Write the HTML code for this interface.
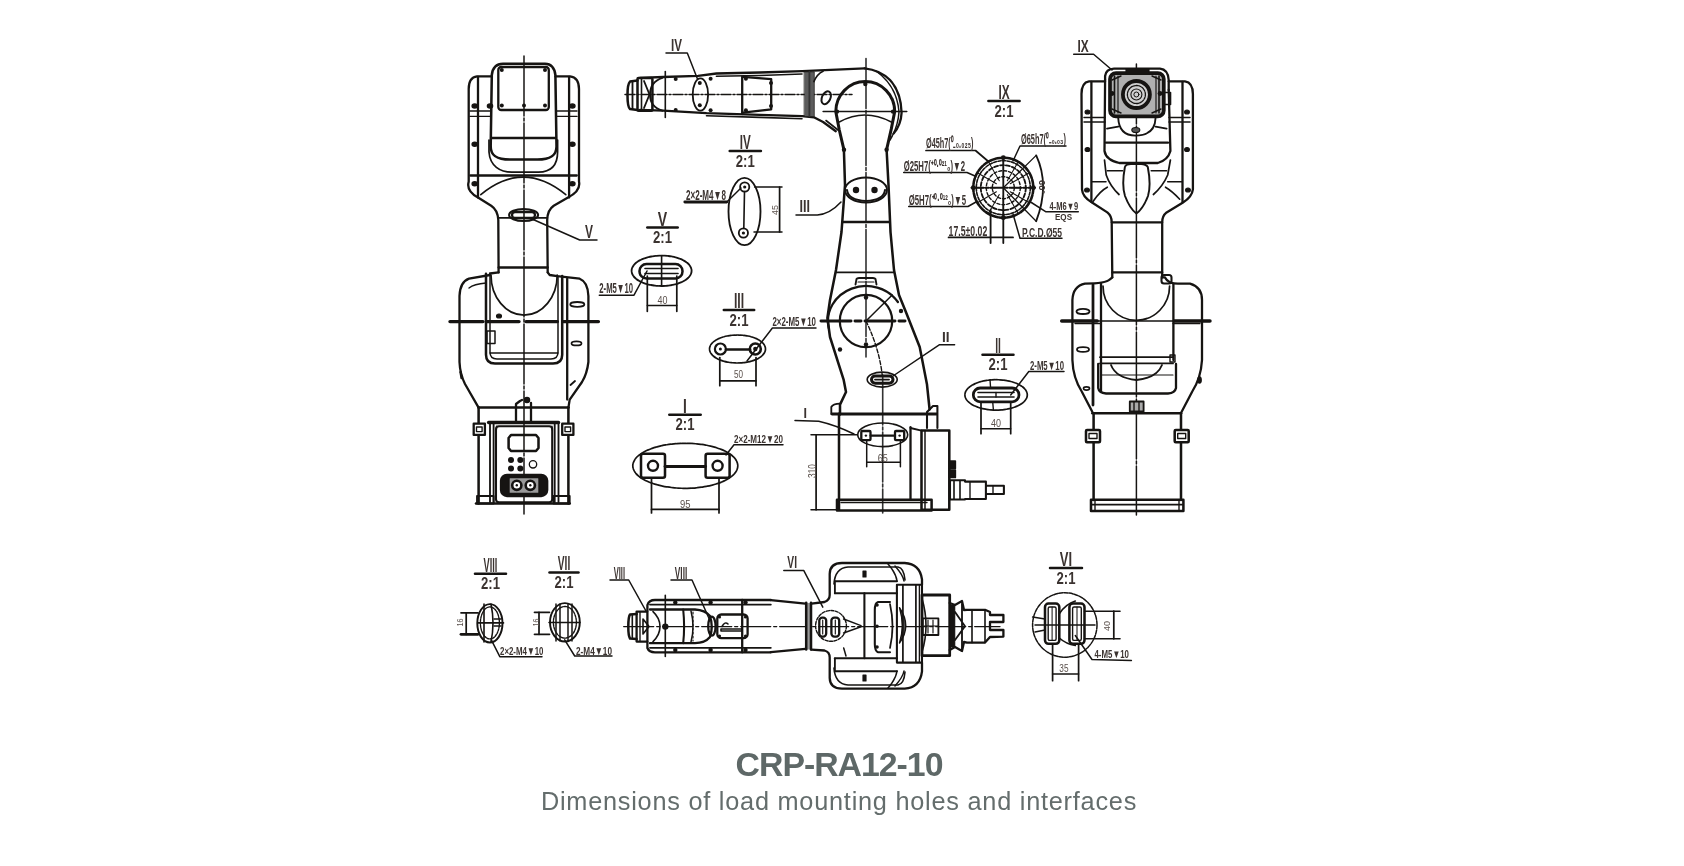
<!DOCTYPE html><html><head><meta charset="utf-8"><style>
html,body{margin:0;padding:0;background:#fff;width:1684px;height:866px;overflow:hidden}
svg{position:absolute;left:0;top:0;will-change:transform}
.cap{will-change:transform;position:absolute;left:0;width:1684px;text-align:center;font-family:"Liberation Sans",sans-serif;color:#5e6867}
</style></head><body>
<svg width="1684" height="866" viewBox="0 0 1684 866" font-family="Liberation Sans, sans-serif" stroke-linecap="round" stroke-linejoin="round">

<line x1="524" y1="56" x2="524" y2="514" stroke="#161412" stroke-width="1.49" stroke-dasharray="60 2 3 2"/>
<path d="M490.7,146.5 L491.8,75 Q493,64 503,63.8 L545,63.8 Q554,64 555.4,75 L556.5,146.5 C556.5,156 550,159.6 537.3,159.6 L509.9,159.6 C497,159.6 490.7,156 490.7,146.5 Z" stroke="#161412" stroke-width="2.53" fill="none" />
<rect x="498.3" y="67" width="50.5" height="43" rx="3" stroke="#161412" stroke-width="2.30" fill="none" />
<circle cx="501.8" cy="70" r="2.0" fill="#161412"/>
<circle cx="545" cy="70" r="2.0" fill="#161412"/>
<circle cx="501.8" cy="105.5" r="2.0" fill="#161412"/>
<circle cx="524" cy="105.5" r="2.0" fill="#161412"/>
<circle cx="545" cy="105.5" r="2.0" fill="#161412"/>
<line x1="491.8" y1="138" x2="555.4" y2="138" stroke="#161412" stroke-width="2.30" />
<path d="M489,140 L489,152 C490,166 500,172.2 512,172.2 L538.4,172.2 C551,172 557.6,165 557.6,152 L557.6,140" stroke="#161412" stroke-width="1.72" fill="none" />
<path d="M491.5,76.4 L477,76.4 Q468.7,77.5 468.7,89 L468.7,181.6 Q466,191 478,197.5 L491.2,205.7 Q497.8,210 498.3,220 L498.6,272.4" stroke="#161412" stroke-width="2.30" fill="none" />
<path d="M555.4,76.4 L570,76.4 Q579,77.5 579,89 L579,181.6 Q581,191 568,197.5 L553.7,205.7 Q547.4,210 547.2,220 L547.7,272.4" stroke="#161412" stroke-width="2.30" fill="none" />
<line x1="478" y1="77" x2="478" y2="197.5" stroke="#161412" stroke-width="2.30" />
<line x1="569.1" y1="77" x2="569.1" y2="197.5" stroke="#161412" stroke-width="2.30" />
<line x1="470" y1="111" x2="491" y2="111" stroke="#161412" stroke-width="1.38" />
<line x1="556" y1="111" x2="577" y2="111" stroke="#161412" stroke-width="1.38" />
<line x1="470" y1="116.4" x2="491" y2="116.4" stroke="#161412" stroke-width="1.38" />
<line x1="556" y1="116.4" x2="577" y2="116.4" stroke="#161412" stroke-width="1.38" />
<ellipse cx="474.7" cy="106" rx="2.6" ry="2" stroke="#161412" stroke-width="1.38" fill="#161412" />
<ellipse cx="490" cy="106" rx="2.6" ry="2" stroke="#161412" stroke-width="1.38" fill="#161412" />
<ellipse cx="572.4" cy="106" rx="2.6" ry="2" stroke="#161412" stroke-width="1.38" fill="#161412" />
<ellipse cx="474.7" cy="144.3" rx="2.6" ry="2" stroke="#161412" stroke-width="1.38" fill="#161412" />
<ellipse cx="572.4" cy="144.3" rx="2.6" ry="2" stroke="#161412" stroke-width="1.38" fill="#161412" />
<ellipse cx="474.7" cy="183.8" rx="2.6" ry="2" stroke="#161412" stroke-width="1.38" fill="#161412" />
<ellipse cx="572.4" cy="183.8" rx="2.6" ry="2" stroke="#161412" stroke-width="1.38" fill="#161412" />
<line x1="470.4" y1="175.5" x2="576.8" y2="175.5" stroke="#161412" stroke-width="2.30" />
<path d="M480.8,194.7 Q523,159.7 565.8,194.7" stroke="#161412" stroke-width="1.61" fill="none" />
<line x1="498.3" y1="217.8" x2="547.2" y2="217.8" stroke="#161412" stroke-width="1.84" />
<ellipse cx="523.6" cy="215" rx="14.5" ry="6" stroke="#161412" stroke-width="2.07" fill="none" />
<rect x="512" y="212" width="23" height="6" rx="3" stroke="#161412" stroke-width="2.30" fill="none" />
<path d="M532,219 L579.7,240 L597,240" stroke="#161412" stroke-width="1.49" fill="none" />
<text x="585" y="237.5" font-size="18.06" textLength="8.0" lengthAdjust="spacingAndGlyphs" fill="#3b3330" font-weight="bold">V</text>
<line x1="498.6" y1="267.5" x2="547.7" y2="267.5" stroke="#161412" stroke-width="2.30" />
<path d="M498.6,272.4 L490,273.5 L490,275 L469,278.7 Q460,282 459.5,296 L459.5,362 Q460,374 465,384 L478.6,407.6" stroke="#161412" stroke-width="2.30" fill="none" />
<path d="M547.7,272.4 L549.7,275 L557.2,276.2 L579.7,278.7 Q588,282 588.4,296 L588.4,362 Q587,374 582,382 L569.7,399.6 L568.4,407.6" stroke="#161412" stroke-width="2.30" fill="none" />
<line x1="478.6" y1="407.6" x2="568.4" y2="407.6" stroke="#161412" stroke-width="2.53" />
<path d="M486,273.7 L486,354.7 Q486,363.5 495,363.5 L553,363.5 Q562.2,363.5 562.2,354.7 L562.2,276" stroke="#161412" stroke-width="2.53" fill="none" />
<path d="M490,276 L490,352 Q490,359 497,359 L551,359 Q558,359 558,352 L558,276" stroke="#161412" stroke-width="1.49" fill="none" />
<line x1="490" y1="353" x2="558" y2="353" stroke="#161412" stroke-width="1.49" />
<path d="M491,275 A33,40 0 0 0 557.2,275" stroke="#161412" stroke-width="1.72" fill="none" />
<line x1="567.2" y1="278.7" x2="567.2" y2="399.6" stroke="#161412" stroke-width="2.30" />
<path d="M450,321.6 L483,321.6 M487,321.6 L519,321.6 M526,321.6 L557.4,321.6 M563.5,321.6 L598.4,321.6" stroke="#161412" stroke-width="3.45" fill="none" />
<ellipse cx="499" cy="316" rx="2.5" ry="2" stroke="#161412" stroke-width="1.15" fill="#161412" />
<rect x="487" y="331" width="8" height="12.5" rx="0" stroke="#161412" stroke-width="1.49" fill="none" />
<ellipse cx="577.3" cy="304.4" rx="7" ry="2.4" stroke="#161412" stroke-width="1.84" fill="none" />
<ellipse cx="576.5" cy="343.4" rx="5" ry="2" stroke="#161412" stroke-width="1.72" fill="none" />
<path d="M570.5,385 L575,381" stroke="#161412" stroke-width="1.84" fill="none" />
<path d="M469,288 Q474,284 486,283" stroke="#161412" stroke-width="1.38" fill="none" />
<line x1="460.5" y1="372" x2="461.5" y2="378" stroke="#161412" stroke-width="2.30" />
<path d="M516,422 L516,404 L520,401 L522,400 M531,422 L531,403" stroke="#161412" stroke-width="2.30" fill="none" />
<ellipse cx="527" cy="400" rx="2.5" ry="2.5" stroke="#161412" stroke-width="1.49" fill="#161412" />
<line x1="478.6" y1="407.6" x2="478.6" y2="503.5" stroke="#161412" stroke-width="2.53" />
<line x1="568.4" y1="407.6" x2="568.4" y2="503.5" stroke="#161412" stroke-width="2.53" />
<line x1="476" y1="503.5" x2="569.7" y2="503.5" stroke="#161412" stroke-width="2.53" />
<line x1="490" y1="422.4" x2="490" y2="502" stroke="#161412" stroke-width="1.84" />
<line x1="493.6" y1="422.4" x2="493.6" y2="502" stroke="#161412" stroke-width="1.84" />
<line x1="554.7" y1="422.4" x2="554.7" y2="502" stroke="#161412" stroke-width="1.84" />
<line x1="558.5" y1="422.4" x2="558.5" y2="502" stroke="#161412" stroke-width="1.84" />
<line x1="488.6" y1="422.4" x2="558.5" y2="422.4" stroke="#161412" stroke-width="3.45" />
<rect x="473.7" y="423.7" width="11.2" height="11.2" rx="0" stroke="#161412" stroke-width="2.30" fill="#fff" />
<rect x="562.2" y="423.7" width="11.2" height="11.2" rx="0" stroke="#161412" stroke-width="2.30" fill="#fff" />
<rect x="476.5" y="427" width="5.6" height="4.6" rx="0" stroke="#161412" stroke-width="1.38" fill="none" />
<rect x="565" y="427" width="5.6" height="4.6" rx="0" stroke="#161412" stroke-width="1.38" fill="none" />
<rect x="496" y="426.2" width="56.2" height="76" rx="3" stroke="#161412" stroke-width="2.07" fill="none" />
<path d="M511,435 L536,435 L538.5,438 L538.5,448 L536,451 L511,451 L508.6,448 L508.6,438 Z" stroke="#161412" stroke-width="2.53" fill="none" />
<circle cx="511" cy="460" r="3.0" fill="#161412"/>
<circle cx="520.3" cy="460" r="3.0" fill="#161412"/>
<circle cx="511" cy="468.6" r="3.0" fill="#161412"/>
<circle cx="520.3" cy="468.6" r="3.0" fill="#161412"/>
<circle cx="533" cy="464.3" r="3.7" stroke="#161412" stroke-width="1.3" fill="none"/>
<rect x="501" y="474.8" width="46.2" height="21.2" rx="6" stroke="#161412" stroke-width="2.30" fill="#161412" />
<rect x="509" y="477.5" width="30" height="16" rx="1" stroke="#161412" stroke-width="1.38" fill="#9a9a9a" />
<circle cx="516.8" cy="485.3" r="4.6" stroke="#161412" stroke-width="2.6" fill="#fff"/>
<circle cx="516.8" cy="485.3" r="1.2" fill="#161412"/>
<circle cx="530.3" cy="485.3" r="4.6" stroke="#161412" stroke-width="2.6" fill="#fff"/>
<circle cx="530.3" cy="485.3" r="1.2" fill="#161412"/>
<rect x="477" y="496" width="16.6" height="7.5" rx="0" stroke="#161412" stroke-width="1.84" fill="none" />
<rect x="553.5" y="496" width="16.2" height="7.5" rx="0" stroke="#161412" stroke-width="1.84" fill="none" />
<line x1="496.5" y1="426" x2="496.5" y2="430" stroke="#161412" stroke-width="1.15" />
<line x1="552" y1="426" x2="552" y2="430" stroke="#161412" stroke-width="1.15" />
<line x1="866" y1="58.5" x2="866" y2="357" stroke="#333" stroke-width="1.61" stroke-dasharray="50 2 3 2"/>
<line x1="882.7" y1="375" x2="882.7" y2="513" stroke="#333" stroke-width="1.61" stroke-dasharray="50 2 3 2"/>
<path d="M866,321 Q880,350 882.5,378" stroke="#161412" stroke-width="1.38" fill="none" stroke-dasharray="4 2"/>
<path d="M640,77.9 L663.2,77 L698.1,75.8 L716.4,73.5 L760,72.5 L802.3,71.2 L864.7,68.3" stroke="#161412" stroke-width="2.30" fill="none" />
<path d="M716.4,76.3 L760,75.5 L802,74" stroke="#161412" stroke-width="1.61" fill="none" />
<path d="M640,109.9 L663.2,110.7 L706.5,113.2 L760,114.9 L802.3,116.2 L813.9,117.3 L823.1,122 L835.8,131.2" stroke="#161412" stroke-width="2.30" fill="none" />
<path d="M706.5,115.8 L760,117.4 L802,118.8" stroke="#161412" stroke-width="1.61" fill="none" />
<path d="M826,120.5 L838,130" stroke="#161412" stroke-width="1.61" fill="none" />
<path d="M637.5,80.5 L630,81.6 Q627.5,84 627.5,95 Q627.5,107 630,109 L637.5,110" stroke="#161412" stroke-width="2.53" fill="none" />
<line x1="632.5" y1="82" x2="632.5" y2="109" stroke="#161412" stroke-width="1.84" />
<rect x="637.5" y="77.9" width="14.9" height="32.8" rx="1" stroke="#161412" stroke-width="2.53" fill="none" />
<line x1="641.5" y1="78.5" x2="641.5" y2="110" stroke="#161412" stroke-width="1.61" />
<path d="M644,81 L649.5,94.5 L644,108" stroke="#161412" stroke-width="1.84" fill="none" />
<path d="M662.4,77.9 Q650,82 650,94.5 Q650,107 662.4,110.7" stroke="#161412" stroke-width="1.84" fill="none" />
<line x1="625" y1="94.5" x2="852" y2="94.5" stroke="#161412" stroke-width="1.49" stroke-dasharray="10 2 2 2"/>
<line x1="665.3" y1="71.6" x2="665.3" y2="117.4" stroke="#161412" stroke-width="1.61" />
<ellipse cx="700.4" cy="94.5" rx="7.7" ry="16.2" stroke="#161412" stroke-width="1.84" fill="none" />
<circle cx="675.7" cy="79.1" r="2.0" fill="#161412"/>
<circle cx="675.7" cy="109.9" r="2.0" fill="#161412"/>
<circle cx="699.8" cy="82.9" r="2.0" fill="#161412"/>
<circle cx="699.8" cy="105.3" r="2.0" fill="#161412"/>
<circle cx="710.6" cy="78.7" r="2.0" fill="#161412"/>
<circle cx="710.6" cy="110.3" r="2.0" fill="#161412"/>
<circle cx="745.9" cy="78.7" r="2.0" fill="#161412"/>
<circle cx="745.9" cy="110.3" r="2.0" fill="#161412"/>
<circle cx="771" cy="83" r="2.0" fill="#161412"/>
<circle cx="771" cy="106" r="2.0" fill="#161412"/>
<line x1="742.2" y1="76.6" x2="742.2" y2="114" stroke="#161412" stroke-width="2.30" />
<path d="M742.9,76.9 L771.2,79.2 L771.2,109.3 L742.9,112.7" stroke="#161412" stroke-width="2.30" fill="none" />
<rect x="804.5" y="71.8" width="9.8" height="44.8" rx="0" stroke="#161412" stroke-width="0.69" fill="#5c5c5c" />
<line x1="809.4" y1="72" x2="809.4" y2="116" stroke="#333" stroke-width="1.84" />
<path d="M813.9,81.6 Q817,74 823.1,71.2" stroke="#161412" stroke-width="1.61" fill="none" />
<ellipse cx="826.2" cy="97.7" rx="4.2" ry="6.8" stroke="#161412" stroke-width="2" fill="none" transform="rotate(25 826.2 97.7)"/>
<path d="M864.7,68.3 Q880,70 890,80 Q901,92 901.6,112.7 Q901,125 893.6,133.5" stroke="#161412" stroke-width="2.30" fill="none" />
<path d="M876,71 Q897,86 899,112 Q898,127 890,140" stroke="#161412" stroke-width="1.49" fill="none" />
<path d="M843.9,149.7 L839.3,130 L835.8,111.6 A29.4,30 0 0 1 894.7,111.6 L891.3,128.9 L886.6,149.7" stroke="#161412" stroke-width="2.99" fill="none" />
<line x1="823.1" y1="111.6" x2="906.8" y2="111.6" stroke="#161412" stroke-width="1.49" />
<path d="M839.3,122 Q864.7,108 891.3,122" stroke="#161412" stroke-width="1.49" fill="none" />
<circle cx="837" cy="111.6" r="2.2" fill="#161412"/>
<circle cx="865.3" cy="84" r="2.2" fill="#161412"/>
<circle cx="893" cy="111.6" r="2.2" fill="#161412"/>
<circle cx="844" cy="149.7" r="2.2" fill="#161412"/>
<circle cx="886.6" cy="149.7" r="2.2" fill="#161412"/>
<path d="M843.9,149.7 L845,185 L841.5,232 L836,270 L830,300 L827.4,318 L830,337 L843.6,379.6 L846,392 L840,404.6 L840,414.5" stroke="#161412" stroke-width="2.53" fill="none" />
<path d="M886.6,149.7 L888.5,185 L890.5,232 L894,270 L899,295 L906,312.3 L919.7,347 L927,384.6 L929.6,409.5" stroke="#161412" stroke-width="2.53" fill="none" />
<ellipse cx="866" cy="190" rx="21" ry="12.5" stroke="#161412" stroke-width="1.84" fill="none" />
<path d="M847,190 Q848,200 866,201 Q884,200 885,190" stroke="#161412" stroke-width="2.07" fill="none" />
<circle cx="856" cy="190" r="3.2" fill="#161412"/>
<circle cx="874.5" cy="190" r="3.2" fill="#161412"/>
<line x1="842.3" y1="222" x2="889.7" y2="222" stroke="#161412" stroke-width="2.30" />
<path d="M841,202 Q830,214 817.4,215 L796,215" stroke="#161412" stroke-width="1.49" fill="none" />
<text x="799.5" y="212" font-size="16.67" textLength="10.5" lengthAdjust="spacingAndGlyphs" fill="#3b3330" font-weight="bold">III</text>
<line x1="836" y1="272.4" x2="893.5" y2="272.4" stroke="#161412" stroke-width="1.84" />
<path d="M855.5,284.5 L856.5,279 Q857,278 859,278 L873,278 Q875,278 875.5,279 L876.5,284.5" stroke="#161412" stroke-width="1.84" fill="none" />
<line x1="858" y1="282" x2="874" y2="282" stroke="#161412" stroke-width="1.15" />
<path d="M828.77,328 A38,35 0 0 1 897.9,302" stroke="#161412" stroke-width="2.30" fill="none" />
<circle cx="866" cy="321" r="26.2" stroke="#161412" stroke-width="2.2" fill="none"/>
<line x1="821" y1="321" x2="908.4" y2="321" stroke="#161412" stroke-width="2.99" stroke-dasharray="30 4 6 4"/>
<line x1="866" y1="321" x2="892.2" y2="295" stroke="#161412" stroke-width="1.49" />
<circle cx="866" cy="297.5" r="2.2" fill="#161412"/>
<circle cx="866" cy="344.5" r="2.2" fill="#161412"/>
<circle cx="901" cy="311" r="2.2" fill="#161412"/>
<circle cx="840" cy="349.5" r="2.2" fill="#161412"/>
<ellipse cx="882.2" cy="379.6" rx="15" ry="7.5" stroke="#161412" stroke-width="1.61" fill="none" />
<rect x="871.5" y="376" width="21.5" height="7.2" rx="3.6" stroke="#161412" stroke-width="2.99" fill="none" />
<line x1="875" y1="379.6" x2="889" y2="379.6" stroke="#161412" stroke-width="1.84" />
<path d="M893,376 L939.6,344.7 L954.6,344.7" stroke="#161412" stroke-width="1.49" fill="none" />
<text x="942" y="342" font-size="15.28" textLength="7.6" lengthAdjust="spacingAndGlyphs" fill="#3b3330" font-weight="bold">II</text>
<line x1="832" y1="414" x2="936.7" y2="414" stroke="#161412" stroke-width="2.76" />
<path d="M831.3,414 L831.3,407 Q833,403.6 840,403.6" stroke="#161412" stroke-width="1.84" fill="none" />
<line x1="839" y1="413.7" x2="839" y2="509.8" stroke="#161412" stroke-width="2.53" />
<rect x="837" y="499.7" width="94.6" height="10.9" rx="0" stroke="#161412" stroke-width="2.53" fill="none" />
<line x1="841" y1="502.5" x2="927" y2="502.5" stroke="#161412" stroke-width="1.38" />
<line x1="910.5" y1="427.2" x2="910.5" y2="499.7" stroke="#161412" stroke-width="2.30" />
<path d="M927,428 L927,412 L933,406 L937.4,406 L937.4,428" stroke="#161412" stroke-width="2.07" fill="none" />
<line x1="910.5" y1="428" x2="921.5" y2="430.6" stroke="#161412" stroke-width="1.84" />
<rect x="921.5" y="430.6" width="27.8" height="79.2" rx="0" stroke="#161412" stroke-width="2.53" fill="none" />
<line x1="925" y1="431" x2="925" y2="509" stroke="#161412" stroke-width="1.49" />
<rect x="949.3" y="461" width="6" height="7.5" rx="0" stroke="#161412" stroke-width="1.72" fill="#161412" />
<rect x="949.3" y="470" width="6" height="7.5" rx="0" stroke="#161412" stroke-width="1.72" fill="#161412" />
<path d="M950,480.2 L965,480.2 L965,481.6 L985.9,481.6 L985.9,499 L965,499 L965,499.5 L950,499.5 Z M985.9,485.7 L1003.9,485.7 L1003.9,494 L985.9,494" stroke="#161412" stroke-width="2.07" fill="none" />
<line x1="954" y1="481" x2="954" y2="499" stroke="#161412" stroke-width="1.61" />
<line x1="960" y1="481" x2="960" y2="499" stroke="#161412" stroke-width="1.61" />
<line x1="970" y1="482" x2="970" y2="499" stroke="#161412" stroke-width="1.38" />
<line x1="993" y1="486" x2="993" y2="494" stroke="#161412" stroke-width="1.38" />
<ellipse cx="882.7" cy="434.8" rx="25" ry="11.8" stroke="#161412" stroke-width="1.61" fill="none" />
<rect x="861.3" y="431" width="9.2" height="9.2" rx="1" stroke="#161412" stroke-width="2.30" fill="none" />
<rect x="895" y="431" width="9.2" height="9.2" rx="1" stroke="#161412" stroke-width="2.30" fill="none" />
<circle cx="865.9" cy="435.6" r="1.2" fill="#161412"/>
<circle cx="899.6" cy="435.6" r="1.2" fill="#161412"/>
<line x1="870.5" y1="435.6" x2="895" y2="435.6" stroke="#161412" stroke-width="2.07" />
<line x1="811" y1="434.8" x2="857.4" y2="434.8" stroke="#161412" stroke-width="1.49" />
<line x1="811" y1="509.8" x2="839" y2="509.8" stroke="#161412" stroke-width="1.49" />
<line x1="816.1" y1="434.8" x2="816.1" y2="509.8" stroke="#161412" stroke-width="1.72" />
<text x="805.0" y="475.0" font-size="11.11" textLength="14.0" lengthAdjust="spacingAndGlyphs" fill="#5a504b" font-weight="normal" transform="rotate(-90 812 471)">310</text>
<line x1="866.7" y1="440" x2="866.7" y2="466.8" stroke="#161412" stroke-width="1.49" />
<line x1="900.4" y1="440" x2="900.4" y2="466.8" stroke="#161412" stroke-width="1.49" />
<line x1="866.7" y1="462.3" x2="900.4" y2="462.3" stroke="#161412" stroke-width="1.49" />
<text x="877.7" y="461.5" font-size="11.11" textLength="10.1" lengthAdjust="spacingAndGlyphs" fill="#5a504b" font-weight="normal">65</text>
<path d="M795,420.5 L818.7,421.3 Q835,425 854,434" stroke="#161412" stroke-width="1.49" fill="none" />
<text x="803.5" y="418" font-size="15.28" textLength="3.5" lengthAdjust="spacingAndGlyphs" fill="#3b3330" font-weight="bold">I</text>
<path d="M666,52.9 L687.3,52.9 L697.3,78.6" stroke="#161412" stroke-width="1.49" fill="none" />
<text x="671" y="51" font-size="16.67" textLength="11.0" lengthAdjust="spacingAndGlyphs" fill="#3b3330" font-weight="bold">IV</text>
<text x="739.8" y="149" font-size="19.86" textLength="11.0" lengthAdjust="spacingAndGlyphs" fill="#3b3330" font-weight="bold">IV</text>
<line x1="729.6999999999999" y1="151" x2="760.9" y2="151" stroke="#161412" stroke-width="2.53" />
<text x="735.8" y="166.5" font-size="17.36" textLength="19.0" lengthAdjust="spacingAndGlyphs" fill="#3b3330" font-weight="bold">2:1</text>
<ellipse cx="744.5" cy="211.5" rx="16" ry="33.7" stroke="#161412" stroke-width="1.84" fill="none" />
<circle cx="744.7" cy="187" r="4.6" stroke="#161412" stroke-width="1.8" fill="none"/>
<circle cx="743.4" cy="233" r="4.6" stroke="#161412" stroke-width="1.8" fill="none"/>
<circle cx="744.7" cy="187" r="1.6" fill="#161412"/>
<circle cx="743.4" cy="233" r="1.6" fill="#161412"/>
<line x1="744.5" y1="191.5" x2="743.8" y2="228.5" stroke="#161412" stroke-width="1.61" />
<line x1="754.6" y1="187" x2="782" y2="187" stroke="#161412" stroke-width="1.49" />
<line x1="754" y1="232" x2="782" y2="232" stroke="#161412" stroke-width="1.49" />
<line x1="779.6" y1="187" x2="779.6" y2="232" stroke="#161412" stroke-width="1.72" />
<text x="769.0" y="213.5" font-size="9.72" textLength="10.0" lengthAdjust="spacingAndGlyphs" fill="#5a504b" font-weight="normal" transform="rotate(-90 774 210)">45</text>
<line x1="684.8" y1="202" x2="726.8" y2="202" stroke="#161412" stroke-width="2.76" />
<line x1="726.8" y1="202" x2="741" y2="188" stroke="#161412" stroke-width="1.49" />
<text x="686" y="200" font-size="13.89" textLength="40.0" lengthAdjust="spacingAndGlyphs" fill="#3b3330" font-weight="bold">2×2-M4▼8</text>
<text x="657.8" y="225.5" font-size="20.14" textLength="9.4" lengthAdjust="spacingAndGlyphs" fill="#3b3330" font-weight="bold">V</text>
<line x1="647.3" y1="227.5" x2="677.7" y2="227.5" stroke="#161412" stroke-width="2.53" />
<text x="653.0" y="243.0" font-size="17.36" textLength="19.0" lengthAdjust="spacingAndGlyphs" fill="#3b3330" font-weight="bold">2:1</text>
<ellipse cx="661.6" cy="270.8" rx="30" ry="15.2" stroke="#161412" stroke-width="1.84" fill="none" stroke-dasharray="3 1"/>
<rect x="639.5" y="264" width="43" height="14.4" rx="7" stroke="#161412" stroke-width="2.53" fill="none" />
<line x1="645" y1="268.5" x2="678" y2="268.5" stroke="#161412" stroke-width="1.61" />
<line x1="645" y1="273.5" x2="678" y2="273.5" stroke="#161412" stroke-width="1.61" />
<line x1="661.6" y1="256" x2="661.6" y2="286" stroke="#161412" stroke-width="1.61" />
<line x1="647.3" y1="276" x2="647.3" y2="311.3" stroke="#161412" stroke-width="1.72" />
<line x1="676.8" y1="276" x2="676.8" y2="311.3" stroke="#161412" stroke-width="1.72" />
<line x1="647.3" y1="305.4" x2="676.8" y2="305.4" stroke="#161412" stroke-width="1.49" />
<text x="657.5" y="303.7" font-size="10.42" textLength="10.0" lengthAdjust="spacingAndGlyphs" fill="#5a504b" font-weight="normal">40</text>
<path d="M599.3,295.2 L634,295.2 L647,271" stroke="#161412" stroke-width="1.49" fill="none" />
<text x="599.3" y="292.7" font-size="13.89" textLength="33.7" lengthAdjust="spacingAndGlyphs" fill="#3b3330" font-weight="bold">2-M5▼10</text>
<text x="733.9" y="308" font-size="22.22" textLength="10.2" lengthAdjust="spacingAndGlyphs" fill="#3b3330" font-weight="bold">III</text>
<line x1="723.8" y1="310" x2="754.2" y2="310" stroke="#161412" stroke-width="2.53" />
<text x="729.5" y="325.5" font-size="17.36" textLength="19.0" lengthAdjust="spacingAndGlyphs" fill="#3b3330" font-weight="bold">2:1</text>
<ellipse cx="737.5" cy="349" rx="28" ry="14" stroke="#161412" stroke-width="1.72" fill="none" stroke-dasharray="3 1"/>
<circle cx="720.4" cy="349" r="5.5" stroke="#161412" stroke-width="2.2" fill="none"/>
<circle cx="755.3" cy="349" r="5.5" stroke="#161412" stroke-width="2.6" fill="none"/>
<circle cx="720.4" cy="349" r="1.5" fill="#161412"/>
<circle cx="755.3" cy="349" r="2.2" fill="#161412"/>
<line x1="726" y1="349.5" x2="750" y2="349.5" stroke="#161412" stroke-width="2.53" />
<line x1="719.8" y1="357.5" x2="719.8" y2="385.7" stroke="#161412" stroke-width="1.72" />
<line x1="756" y1="357.5" x2="756" y2="385.7" stroke="#161412" stroke-width="1.72" />
<line x1="719.8" y1="380.8" x2="756" y2="380.8" stroke="#161412" stroke-width="1.72" />
<text x="734" y="378" font-size="11.11" textLength="9.0" lengthAdjust="spacingAndGlyphs" fill="#5a504b" font-weight="normal">50</text>
<path d="M816,328 L772.4,328 L747,361" stroke="#161412" stroke-width="1.49" fill="none" />
<text x="772.4" y="326.3" font-size="13.19" textLength="43.6" lengthAdjust="spacingAndGlyphs" fill="#3b3330" font-weight="bold">2×2-M5▼10</text>
<text x="683.1" y="412.8" font-size="20.14" textLength="3.8" lengthAdjust="spacingAndGlyphs" fill="#3b3330" font-weight="bold">I</text>
<line x1="669.3" y1="414.8" x2="700.7" y2="414.8" stroke="#161412" stroke-width="2.53" />
<text x="675.5" y="430.3" font-size="17.36" textLength="19.0" lengthAdjust="spacingAndGlyphs" fill="#3b3330" font-weight="bold">2:1</text>
<ellipse cx="685.3" cy="465.8" rx="52.5" ry="22.5" stroke="#161412" stroke-width="1.72" fill="none" stroke-dasharray="4 1"/>
<rect x="641" y="453.8" width="24" height="24" rx="2" stroke="#161412" stroke-width="2.53" fill="none" />
<rect x="705.6" y="453.8" width="24" height="24" rx="2" stroke="#161412" stroke-width="2.53" fill="none" />
<circle cx="653" cy="465.8" r="5" stroke="#161412" stroke-width="2.4" fill="none"/>
<circle cx="717.6" cy="465.8" r="5" stroke="#161412" stroke-width="2.4" fill="none"/>
<line x1="665" y1="466.5" x2="705.6" y2="466.5" stroke="#161412" stroke-width="2.76" />
<line x1="651.5" y1="478.6" x2="651.5" y2="513" stroke="#161412" stroke-width="1.72" />
<line x1="719" y1="478.6" x2="719" y2="513" stroke="#161412" stroke-width="1.72" />
<line x1="651.5" y1="509.4" x2="719" y2="509.4" stroke="#161412" stroke-width="1.72" />
<text x="680" y="507.5" font-size="11.11" textLength="10.5" lengthAdjust="spacingAndGlyphs" fill="#5a504b" font-weight="normal">95</text>
<path d="M783,444.8 L734,444.8 L726,455" stroke="#161412" stroke-width="1.49" fill="none" />
<text x="734" y="442.5" font-size="11.81" textLength="49.0" lengthAdjust="spacingAndGlyphs" fill="#3b3330" font-weight="bold">2×2-M12▼20</text>
<text x="995.15" y="352.7" font-size="21.39" textLength="5.7" lengthAdjust="spacingAndGlyphs" fill="#3b3330" font-weight="bold">II</text>
<line x1="982.5" y1="354.7" x2="1013.5" y2="354.7" stroke="#161412" stroke-width="2.53" />
<text x="988.5" y="370.2" font-size="17.36" textLength="19.0" lengthAdjust="spacingAndGlyphs" fill="#3b3330" font-weight="bold">2:1</text>
<ellipse cx="996.1" cy="394.9" rx="31.2" ry="15.2" stroke="#161412" stroke-width="1.72" fill="none" stroke-dasharray="3 1"/>
<rect x="973.3" y="388" width="45.7" height="13.8" rx="6.9" stroke="#161412" stroke-width="2.76" fill="none" />
<line x1="978" y1="392.5" x2="1014" y2="392.5" stroke="#161412" stroke-width="1.61" />
<line x1="978" y1="397" x2="1014" y2="397" stroke="#161412" stroke-width="1.61" />
<line x1="990" y1="379.6" x2="990.6" y2="388" stroke="#161412" stroke-width="1.38" />
<line x1="992.7" y1="401.8" x2="993.4" y2="410" stroke="#161412" stroke-width="1.38" />
<line x1="996" y1="392.5" x2="996" y2="397" stroke="#161412" stroke-width="1.38" />
<line x1="981" y1="401.8" x2="981" y2="433.7" stroke="#161412" stroke-width="1.72" />
<line x1="1010.7" y1="401.8" x2="1010.7" y2="433.7" stroke="#161412" stroke-width="1.72" />
<line x1="981" y1="428.8" x2="1010.7" y2="428.8" stroke="#161412" stroke-width="1.49" />
<text x="991" y="426.5" font-size="10.42" textLength="10.0" lengthAdjust="spacingAndGlyphs" fill="#5a504b" font-weight="normal">40</text>
<path d="M1064,371.5 L1028.8,371.5 L1010.7,395" stroke="#161412" stroke-width="1.49" fill="none" />
<text x="1030" y="370" font-size="12.50" textLength="34.0" lengthAdjust="spacingAndGlyphs" fill="#3b3330" font-weight="bold">2-M5▼10</text>
<text x="998.4" y="99" font-size="19.44" textLength="11.2" lengthAdjust="spacingAndGlyphs" fill="#3b3330" font-weight="bold">IX</text>
<line x1="988.4" y1="101" x2="1019.6" y2="101" stroke="#161412" stroke-width="2.53" />
<text x="994.5" y="116.5" font-size="17.36" textLength="19.0" lengthAdjust="spacingAndGlyphs" fill="#3b3330" font-weight="bold">2:1</text>
<circle cx="1003.3" cy="187.7" r="30" stroke="#161412" stroke-width="2.6" fill="none" stroke-dasharray="6 1.5"/>
<circle cx="1003.3" cy="187.7" r="27" stroke="#161412" stroke-width="1.6" fill="none" stroke-dasharray="3 1.5"/>
<circle cx="1003.3" cy="187.7" r="22.5" stroke="#161412" stroke-width="1.8" fill="none" stroke-dasharray="4 2"/>
<circle cx="1003.3" cy="187.7" r="17" stroke="#161412" stroke-width="1.4" fill="none" stroke-dasharray="3 2"/>
<circle cx="1003.3" cy="187.7" r="11" stroke="#161412" stroke-width="1.4" fill="none" stroke-dasharray="3 2"/>
<line x1="1011.3" y1="187.7" x2="1032.3" y2="187.7" stroke="#161412" stroke-width="1.03" />
<line x1="1010.2" y1="191.7" x2="1028.4" y2="202.2" stroke="#161412" stroke-width="1.03" />
<line x1="1007.3" y1="194.6" x2="1017.8" y2="212.8" stroke="#161412" stroke-width="1.03" />
<line x1="1003.3" y1="195.7" x2="1003.3" y2="216.7" stroke="#161412" stroke-width="1.03" />
<line x1="999.3" y1="194.6" x2="988.8" y2="212.8" stroke="#161412" stroke-width="1.03" />
<line x1="996.4" y1="191.7" x2="978.2" y2="202.2" stroke="#161412" stroke-width="1.03" />
<line x1="995.3" y1="187.7" x2="974.3" y2="187.7" stroke="#161412" stroke-width="1.03" />
<line x1="996.4" y1="183.7" x2="978.2" y2="173.2" stroke="#161412" stroke-width="1.03" />
<line x1="999.3" y1="180.8" x2="988.8" y2="162.6" stroke="#161412" stroke-width="1.03" />
<line x1="1003.3" y1="179.7" x2="1003.3" y2="158.7" stroke="#161412" stroke-width="1.03" />
<line x1="1007.3" y1="180.8" x2="1017.8" y2="162.6" stroke="#161412" stroke-width="1.03" />
<line x1="1010.2" y1="183.7" x2="1028.4" y2="173.2" stroke="#161412" stroke-width="1.03" />
<circle cx="1033.3" cy="187.7" r="2.4" fill="#161412"/>
<circle cx="1003.3" cy="217.7" r="2.4" fill="#161412"/>
<circle cx="973.3" cy="187.7" r="2.4" fill="#161412"/>
<circle cx="1003.3" cy="157.7" r="2.4" fill="#161412"/>
<line x1="971.5" y1="187.7" x2="1035" y2="187.7" stroke="#161412" stroke-width="2.07" stroke-dasharray="12 2 3 2"/>
<line x1="1003.3" y1="157" x2="1003.3" y2="243" stroke="#161412" stroke-width="1.84" />
<line x1="990.6" y1="209.7" x2="990.6" y2="243" stroke="#161412" stroke-width="1.84" />
<path d="M1003.3,187.7 L1036.2,155.4 M1003.3,187.7 L1036.2,221.2" stroke="#161412" stroke-width="1.26" fill="none" />
<path d="M1036.2,155.4 Q1050,185 1036.2,221.2" stroke="#161412" stroke-width="1.84" fill="none" />
<text x="1035.0" y="190.5" font-size="9.72" textLength="14.0" lengthAdjust="spacingAndGlyphs" fill="#3b3330" font-weight="bold" transform="rotate(90 1042 187)">60°</text>
<path d="M926,150.5 L975.5,150.5 L989,162" stroke="#161412" stroke-width="1.72" fill="none" />
<text x="926" y="148" font-size="14.58" textLength="47.5" lengthAdjust="spacingAndGlyphs" fill="#3b3330" font-weight="bold">Ø45h7(⁰₋₀.₀₂₅)</text>
<path d="M1066,146 L1020,146 L1013,161" stroke="#161412" stroke-width="1.49" fill="none" />
<text x="1021" y="144" font-size="13.89" textLength="45.0" lengthAdjust="spacingAndGlyphs" fill="#3b3330" font-weight="bold">Ø65h7(⁰₋₀.₀₃)</text>
<path d="M903.7,172.5 L967,172.5 L975,176" stroke="#161412" stroke-width="1.49" fill="none" />
<text x="903.7" y="170.5" font-size="13.89" textLength="61.3" lengthAdjust="spacingAndGlyphs" fill="#3b3330" font-weight="bold">Ø25H7(⁺⁰·⁰²¹₀)▼2</text>
<path d="M908.7,206.5 L968,206.5 L976,202" stroke="#161412" stroke-width="1.49" fill="none" />
<text x="908.7" y="204.5" font-size="13.89" textLength="57.3" lengthAdjust="spacingAndGlyphs" fill="#3b3330" font-weight="bold">Ø5H7(⁺⁰·⁰¹²₀)▼5</text>
<path d="M948.6,237.4 L1013,237.4" stroke="#161412" stroke-width="1.84" fill="none" />
<text x="948.6" y="235.5" font-size="13.89" textLength="38.7" lengthAdjust="spacingAndGlyphs" fill="#3b3330" font-weight="bold">17.5±0.02</text>
<path d="M1062,238.3 L1020,238.3 L1013,214" stroke="#161412" stroke-width="1.49" fill="none" />
<text x="1022" y="236.5" font-size="12.50" textLength="40.0" lengthAdjust="spacingAndGlyphs" fill="#3b3330" font-weight="bold">P.C.D.Ø55</text>
<path d="M1078.3,211.8 L1046,211.8 L1029,201" stroke="#161412" stroke-width="1.49" fill="none" />
<text x="1049.6" y="210" font-size="11.11" textLength="28.7" lengthAdjust="spacingAndGlyphs" fill="#3b3330" font-weight="bold">4-M6▼9</text>
<text x="1055" y="220" font-size="9.72" textLength="17.0" lengthAdjust="spacingAndGlyphs" fill="#3b3330" font-weight="bold">EQS</text>
<line x1="1136.4" y1="64" x2="1136.4" y2="515" stroke="#161412" stroke-width="1.49" stroke-dasharray="60 2 3 2"/>
<path d="M1073.7,54.2 L1093.6,54.2 L1112,70" stroke="#161412" stroke-width="1.49" fill="none" />
<text x="1077.4" y="52.4" font-size="16.67" textLength="11.2" lengthAdjust="spacingAndGlyphs" fill="#3b3330" font-weight="bold">IX</text>
<path d="M1105.1,80 L1105.1,76 Q1106,69 1114,68.7 L1160,68.7 Q1168,69.5 1168.7,80 L1168.7,90" stroke="#161412" stroke-width="2.30" fill="none" />
<rect x="1110" y="73.1" width="53.8" height="43.3" rx="6" stroke="#161412" stroke-width="3.68" fill="#b0b0b0" />
<rect x="1126" y="68.7" width="23" height="5.5" rx="0" stroke="#161412" stroke-width="1.15" fill="#161412" />
<line x1="1114.5" y1="76" x2="1114.5" y2="113" stroke="#161412" stroke-width="1.61" />
<line x1="1159" y1="76" x2="1159" y2="113" stroke="#161412" stroke-width="1.61" />
<line x1="1118" y1="76" x2="1118" y2="113" stroke="#161412" stroke-width="1.15" />
<line x1="1156" y1="76" x2="1156" y2="113" stroke="#161412" stroke-width="1.15" />
<circle cx="1136.4" cy="94.5" r="13.5" stroke="#161412" stroke-width="3.8" fill="#d0d0d0"/>
<circle cx="1136.4" cy="94.5" r="9" stroke="#161412" stroke-width="1.3" fill="none" stroke-dasharray="2 1"/>
<circle cx="1136.4" cy="94.5" r="5.5" stroke="#161412" stroke-width="1.1" fill="none"/>
<circle cx="1136.4" cy="94.5" r="2.5" stroke="#161412" stroke-width="1" fill="none"/>
<path d="M1112,80 L1121,76 M1161,80 L1152,76 M1112,109 L1121,113 M1161,109 L1152,113" stroke="#161412" stroke-width="1.38" fill="none" />
<circle cx="1112" cy="93.5" r="2.4" fill="#161412"/>
<circle cx="1160" cy="93.5" r="2.4" fill="#161412"/>
<rect x="1163.5" y="92.5" width="7" height="12" rx="0" stroke="#161412" stroke-width="1.61" fill="none" />
<path d="M1105.1,81.3 L1089,81.3 Q1081.5,82.5 1081.5,94 L1082,189.4 Q1082.5,197 1092,202.5 L1107.3,212.4 Q1111.7,216 1111.7,222 L1112.3,277.4" stroke="#161412" stroke-width="2.30" fill="none" />
<path d="M1168.7,81.3 L1185,81.3 Q1192.9,82.5 1192.9,94 L1192.9,189.4 Q1192,197 1183,202.5 L1166.6,212.4 Q1162.2,216 1162.2,222 L1162.2,277.4" stroke="#161412" stroke-width="2.30" fill="none" />
<line x1="1091.4" y1="82" x2="1091.4" y2="202" stroke="#161412" stroke-width="2.30" />
<line x1="1182.5" y1="82" x2="1182.5" y2="202" stroke="#161412" stroke-width="2.30" />
<line x1="1084" y1="117.5" x2="1105" y2="117.5" stroke="#161412" stroke-width="1.49" />
<line x1="1169" y1="117.5" x2="1190" y2="117.5" stroke="#161412" stroke-width="1.49" />
<line x1="1084" y1="122" x2="1105" y2="122" stroke="#161412" stroke-width="1.49" />
<line x1="1169" y1="122" x2="1190" y2="122" stroke="#161412" stroke-width="1.49" />
<ellipse cx="1087.5" cy="112" rx="2.4" ry="2" stroke="#161412" stroke-width="1.15" fill="#161412" />
<ellipse cx="1087.5" cy="149.5" rx="2.4" ry="2" stroke="#161412" stroke-width="1.15" fill="#161412" />
<ellipse cx="1187" cy="112" rx="2.4" ry="2" stroke="#161412" stroke-width="1.15" fill="#161412" />
<ellipse cx="1187" cy="149.5" rx="2.4" ry="2" stroke="#161412" stroke-width="1.15" fill="#161412" />
<ellipse cx="1087" cy="190" rx="2.4" ry="2" stroke="#161412" stroke-width="1.15" fill="#161412" />
<ellipse cx="1188" cy="190" rx="2.4" ry="2" stroke="#161412" stroke-width="1.15" fill="#161412" />
<path d="M1105.1,80 L1104.5,151 Q1106,160 1119.4,163 L1157.8,163 Q1168,160 1170.4,151 L1168.7,90" stroke="#161412" stroke-width="2.30" fill="none" />
<line x1="1106" y1="142.7" x2="1168" y2="142.7" stroke="#161412" stroke-width="2.30" />
<path d="M1118.2,117.6 Q1119,135.6 1135.5,135.6 Q1155,135.6 1155.6,117.6 M1107,128.6 L1118.2,126.6 M1155.6,126.6 L1166.6,128.6" stroke="#161412" stroke-width="1.84" fill="none" />
<ellipse cx="1135.8" cy="130" rx="4" ry="2.5" stroke="#161412" stroke-width="1.15" fill="#555" />
<path d="M1104.5,160 L1106.2,175 Q1110,186 1119,194.5" stroke="#161412" stroke-width="1.72" fill="none" />
<path d="M1170.4,160 L1167.7,175 Q1163,186 1153.4,194.5" stroke="#161412" stroke-width="1.72" fill="none" />
<path d="M1124.9,167 Q1121.5,185 1125,196 Q1130,209 1136.4,213.5 Q1143,209 1148,196 Q1151.3,185 1147.8,167 Q1146,164 1141,164 L1131,164 Q1126,164 1124.9,167 Z" stroke="#161412" stroke-width="1.95" fill="none" />
<line x1="1107.3" y1="170.7" x2="1122.6" y2="170.7" stroke="#161412" stroke-width="1.49" />
<line x1="1151.2" y1="170.7" x2="1166.6" y2="170.7" stroke="#161412" stroke-width="1.49" />
<line x1="1092" y1="181.7" x2="1106" y2="181.7" stroke="#161412" stroke-width="1.49" />
<line x1="1167.7" y1="181.7" x2="1182" y2="181.7" stroke="#161412" stroke-width="1.49" />
<path d="M1093,201.5 Q1100,191 1107.3,187.2" stroke="#161412" stroke-width="1.61" fill="none" />
<path d="M1179.7,199.2 Q1172,191 1165.5,187.2" stroke="#161412" stroke-width="1.61" fill="none" />
<line x1="1111.7" y1="222.3" x2="1162.2" y2="222.3" stroke="#161412" stroke-width="2.30" />
<line x1="1112.3" y1="272.4" x2="1162.2" y2="272.4" stroke="#161412" stroke-width="2.30" />
<path d="M1112.3,277.4 L1110,279.3 Q1106,283.6 1085,283.6 Q1073,286 1072.4,300 L1072.4,360 Q1073,378 1082,392 L1092.4,412" stroke="#161412" stroke-width="2.30" fill="none" />
<path d="M1162.2,277.4 L1165,277.4 Q1168,283.6 1178,283.6 L1190,283.6 Q1202,287 1202,300 L1202,360 Q1201,378 1192,392 L1181,413" stroke="#161412" stroke-width="2.30" fill="none" />
<rect x="1161.5" y="275" width="10" height="8.5" rx="2.5" stroke="#161412" stroke-width="2.07" fill="none" />
<line x1="1093" y1="285" x2="1093" y2="405" stroke="#161412" stroke-width="2.76" />
<path d="M1101,283.6 L1101,392 M1173.4,283.6 L1173.4,360" stroke="#161412" stroke-width="2.30" fill="none" />
<path d="M1103,286 A33,34 0 0 0 1169.6,286" stroke="#161412" stroke-width="1.72" fill="none" />
<path d="M1061.7,321 L1097.2,321 M1174.3,321 L1210,321" stroke="#161412" stroke-width="3.45" fill="none" />
<line x1="1097.2" y1="321" x2="1174.3" y2="321" stroke="#161412" stroke-width="1.61" />
<line x1="1075" y1="323.5" x2="1101" y2="323.5" stroke="#161412" stroke-width="1.26" />
<line x1="1173" y1="323.5" x2="1200" y2="323.5" stroke="#161412" stroke-width="1.26" />
<path d="M1100,357.2 L1173,357.2 M1100,363.4 L1173,363.4" stroke="#161412" stroke-width="1.84" fill="none" />
<path d="M1098.2,364 L1098.2,388 Q1099,393 1106,393.5 L1168,393.5 Q1175,393 1176,388 L1176,364" stroke="#161412" stroke-width="2.30" fill="none" />
<path d="M1111,365 Q1116,378 1136.4,380 Q1157,378 1162,365" stroke="#161412" stroke-width="1.84" fill="none" />
<path d="M1101,375 L1173,375" stroke="#161412" stroke-width="1.15" fill="none" />
<rect x="1170" y="355" width="5" height="7" rx="0" stroke="#161412" stroke-width="1.38" fill="none" />
<ellipse cx="1083" cy="311.4" rx="6.5" ry="2.6" stroke="#161412" stroke-width="1.84" fill="none" />
<ellipse cx="1083" cy="349.5" rx="6" ry="2.4" stroke="#161412" stroke-width="1.84" fill="none" />
<ellipse cx="1086.5" cy="388.5" rx="3" ry="1.6" stroke="#161412" stroke-width="1.61" fill="none" />
<ellipse cx="1199.5" cy="380" rx="1.6" ry="3" stroke="#161412" stroke-width="1.61" fill="#161412" />
<rect x="1129.8" y="401.5" width="13.8" height="10" rx="0" stroke="#161412" stroke-width="1.84" fill="#aaa" />
<line x1="1134" y1="402" x2="1134" y2="411" stroke="#161412" stroke-width="1.38" />
<line x1="1139" y1="402" x2="1139" y2="411" stroke="#161412" stroke-width="1.38" />
<line x1="1092.4" y1="413.3" x2="1181" y2="413.3" stroke="#161412" stroke-width="2.53" />
<line x1="1093.6" y1="413.3" x2="1093.6" y2="500" stroke="#161412" stroke-width="2.53" />
<line x1="1181" y1="413.3" x2="1181" y2="500" stroke="#161412" stroke-width="2.53" />
<rect x="1086" y="430" width="14" height="12.3" rx="1" stroke="#161412" stroke-width="2.53" fill="#fff" />
<rect x="1174.7" y="430" width="14" height="12.3" rx="1" stroke="#161412" stroke-width="2.53" fill="#fff" />
<rect x="1089" y="433.5" width="8" height="5" rx="0" stroke="#161412" stroke-width="1.38" fill="none" />
<rect x="1177.7" y="433.5" width="8" height="5" rx="0" stroke="#161412" stroke-width="1.38" fill="none" />
<rect x="1091" y="499.7" width="92.4" height="11.3" rx="0" stroke="#161412" stroke-width="2.53" fill="none" />
<line x1="1092" y1="504.7" x2="1182" y2="504.7" stroke="#161412" stroke-width="1.72" />
<line x1="1095" y1="500" x2="1095" y2="510" stroke="#161412" stroke-width="1.38" />
<line x1="1179" y1="500" x2="1179" y2="510" stroke="#161412" stroke-width="1.38" />
<text x="483.6" y="571.7" font-size="19.72" textLength="13.8" lengthAdjust="spacingAndGlyphs" fill="#3b3330" font-weight="bold">VIII</text>
<line x1="475.0" y1="573.7" x2="506.0" y2="573.7" stroke="#161412" stroke-width="2.53" />
<text x="481.0" y="589.2" font-size="17.36" textLength="19.0" lengthAdjust="spacingAndGlyphs" fill="#3b3330" font-weight="bold">2:1</text>
<ellipse cx="489.9" cy="623.3" rx="12.6" ry="19.2" stroke="#161412" stroke-width="1.95" fill="none" />
<ellipse cx="489.9" cy="622.9" rx="9.5" ry="16" stroke="#161412" stroke-width="1.38" fill="none" stroke-dasharray="2 1"/>
<path d="M484,604 L484,642 M491,604 Q495,623 491,642" stroke="#161412" stroke-width="1.61" fill="none" />
<line x1="478" y1="622.9" x2="503.5" y2="622.9" stroke="#161412" stroke-width="1.61" />
<path d="M494,619 L501,619 M494,626 L501,626" stroke="#161412" stroke-width="1.38" fill="none" />
<line x1="461" y1="612.8" x2="478" y2="612.8" stroke="#161412" stroke-width="1.72" />
<line x1="461" y1="634.3" x2="478" y2="634.3" stroke="#161412" stroke-width="2.76" />
<line x1="466.2" y1="612.8" x2="466.2" y2="634.3" stroke="#161412" stroke-width="1.72" />
<text x="456.0" y="625.5" font-size="8.33" textLength="8.0" lengthAdjust="spacingAndGlyphs" fill="#5a504b" font-weight="normal" transform="rotate(-90 460 622.5)">16</text>
<path d="M491.3,639.8 L499.8,656.7 L542,656.7" stroke="#161412" stroke-width="1.49" fill="none" />
<text x="500" y="655" font-size="11.81" textLength="43.5" lengthAdjust="spacingAndGlyphs" fill="#3b3330" font-weight="bold">2×2-M4▼10</text>
<text x="557.75" y="570.4" font-size="20.00" textLength="12.5" lengthAdjust="spacingAndGlyphs" fill="#3b3330" font-weight="bold">VII</text>
<line x1="549.5" y1="572.4" x2="578.5" y2="572.4" stroke="#161412" stroke-width="2.53" />
<text x="554.5" y="587.9" font-size="17.36" textLength="19.0" lengthAdjust="spacingAndGlyphs" fill="#3b3330" font-weight="bold">2:1</text>
<ellipse cx="564.9" cy="622.3" rx="14.9" ry="19.2" stroke="#161412" stroke-width="1.95" fill="none" />
<ellipse cx="564.9" cy="622.3" rx="11.5" ry="15.8" stroke="#161412" stroke-width="1.38" fill="none" stroke-dasharray="2 1"/>
<path d="M556,604 L556,641 M560,604 L560,641 M568,604 L568,641 M572,604 L572,641" stroke="#161412" stroke-width="1.49" fill="none" />
<line x1="549" y1="622.5" x2="580" y2="622.5" stroke="#161412" stroke-width="1.49" />
<line x1="534.5" y1="612.3" x2="549.5" y2="612.3" stroke="#161412" stroke-width="1.72" />
<line x1="534.5" y1="634.3" x2="549.5" y2="634.3" stroke="#161412" stroke-width="1.72" />
<line x1="539" y1="612.3" x2="539" y2="634.3" stroke="#161412" stroke-width="1.72" />
<text x="531.5" y="625.5" font-size="8.33" textLength="8.0" lengthAdjust="spacingAndGlyphs" fill="#5a504b" font-weight="normal" transform="rotate(-90 535.5 622.5)">16</text>
<path d="M564.7,639.8 L574.7,656 L612,656" stroke="#161412" stroke-width="1.49" fill="none" />
<text x="576" y="654.5" font-size="11.81" textLength="36.0" lengthAdjust="spacingAndGlyphs" fill="#3b3330" font-weight="bold">2-M4▼10</text>
<line x1="623.7" y1="626.6" x2="1000" y2="626.6" stroke="#161412" stroke-width="1.38" stroke-dasharray="30 3 3 3"/>
<path d="M610,580 L628.7,580 L646,611" stroke="#161412" stroke-width="1.49" fill="none" />
<text x="613.7" y="578.6" font-size="17.36" textLength="11.3" lengthAdjust="spacingAndGlyphs" fill="#3b3330" font-weight="bold">VIII</text>
<path d="M671,580 L692,580 L709.7,620" stroke="#161412" stroke-width="1.49" fill="none" />
<text x="674.8" y="578.6" font-size="17.36" textLength="12.5" lengthAdjust="spacingAndGlyphs" fill="#3b3330" font-weight="bold">VIII</text>
<path d="M783.8,570.4 L803.7,570.4 L822.8,607.2" stroke="#161412" stroke-width="1.49" fill="none" />
<text x="787.3" y="568.2" font-size="17.36" textLength="9.7" lengthAdjust="spacingAndGlyphs" fill="#3b3330" font-weight="bold">VI</text>
<path d="M636.6,614 L630,614.5 Q628.3,617 628.3,626.6 Q628.3,636 630,638.5 L636.6,639" stroke="#161412" stroke-width="2.53" fill="none" />
<rect x="636.6" y="611.6" width="10.8" height="30" rx="0" stroke="#161412" stroke-width="2.30" fill="none" />
<line x1="632.3" y1="615" x2="632.3" y2="638" stroke="#161412" stroke-width="1.61" />
<line x1="640" y1="612" x2="640" y2="641" stroke="#161412" stroke-width="1.38" />
<path d="M643,619 L649,626.6 L643,634 Z" stroke="#161412" stroke-width="1.61" fill="none" />
<path d="M653,611.6 Q660,618 660,626.6 Q660,635 653,641.6" stroke="#161412" stroke-width="1.61" fill="none" />
<circle cx="665.3" cy="626.6" r="3.2" fill="#161412"/>
<line x1="665.3" y1="595.4" x2="665.3" y2="656.5" stroke="#161412" stroke-width="1.61" />
<path d="M647.4,611 L647.4,605 Q649,600 655,600 L770.8,600" stroke="#161412" stroke-width="2.30" fill="none" />
<line x1="650" y1="604.6" x2="770.8" y2="604.6" stroke="#161412" stroke-width="1.84" />
<path d="M647.4,642 L647.4,648 Q649,652.3 655,652.3 L770.8,652.3" stroke="#161412" stroke-width="2.30" fill="none" />
<line x1="650" y1="647.8" x2="770.8" y2="647.8" stroke="#161412" stroke-width="1.84" />
<circle cx="675.3" cy="602.4" r="2.2" fill="#161412"/>
<circle cx="675.3" cy="650" r="2.2" fill="#161412"/>
<circle cx="710.6" cy="602.4" r="2.2" fill="#161412"/>
<circle cx="710.6" cy="650" r="2.2" fill="#161412"/>
<circle cx="745.5" cy="602.4" r="2.2" fill="#161412"/>
<circle cx="745.5" cy="650" r="2.2" fill="#161412"/>
<path d="M650,609.5 L695,609.5 Q705,610 710,616 Q713.5,626.6 710,637 Q705,643 695,643.2 L650,643.2" stroke="#161412" stroke-width="2.30" fill="none" />
<path d="M683.2,609.5 Q685,626.6 683.2,643.2" stroke="#161412" stroke-width="2.07" fill="none" />
<path d="M691,611 Q695,626.6 691,642" stroke="#161412" stroke-width="1.49" fill="none" />
<path d="M693,612 L693,641" stroke="#161412" stroke-width="1.15" fill="none" stroke-dasharray="2 2"/>
<ellipse cx="711.9" cy="626.2" rx="3.7" ry="9.5" stroke="#161412" stroke-width="2.30" fill="none" />
<rect x="717.3" y="614.5" width="30.3" height="23.7" rx="4" stroke="#161412" stroke-width="2.30" fill="none" />
<line x1="742.2" y1="600" x2="742.2" y2="652.3" stroke="#161412" stroke-width="2.30" />
<circle cx="719.5" cy="617" r="1.6" fill="#161412"/>
<circle cx="745.5" cy="617" r="1.6" fill="#161412"/>
<circle cx="719.5" cy="636" r="1.6" fill="#161412"/>
<circle cx="745.5" cy="636" r="1.6" fill="#161412"/>
<path d="M722,626.5 Q725,621 728,624 M721,629 L742,629 L742,631 L721,631 Z" stroke="#161412" stroke-width="1.61" fill="none" />
<path d="M770.8,600.2 L805.4,603.7" stroke="#161412" stroke-width="2.30" fill="none" />
<path d="M770.8,652.2 L805.4,648.8" stroke="#161412" stroke-width="2.30" fill="none" />
<rect x="806.2" y="603" width="4.8" height="46.5" rx="0" stroke="#161412" stroke-width="0.00" fill="#999" />
<line x1="806.2" y1="602.8" x2="806.2" y2="649.6" stroke="#161412" stroke-width="2.53" />
<line x1="811" y1="602.8" x2="811" y2="649.6" stroke="#161412" stroke-width="2.53" />
<path d="M811.5,603.7 L824.5,602 Q829.7,600 829.7,595 L829.7,574 Q830,563 842,563 L904.7,563 Q920,564 922,579.5 L922,584.7" stroke="#161412" stroke-width="2.30" fill="none" />
<path d="M811.5,649.6 L824.5,650.5 Q829.7,652 829.7,657.4 L829.7,678 Q830,688.6 842,688.6 L904.7,688.6 Q920,687.5 922,671.3 L922,662.6" stroke="#161412" stroke-width="2.30" fill="none" />
<path d="M834,584 Q835,568 848,567 L898,567 Q904,568 905,580" stroke="#161412" stroke-width="1.61" fill="none" />
<path d="M834,668 Q835,684 848,685 L898,685 Q904,684 905,672" stroke="#161412" stroke-width="1.61" fill="none" />
<line x1="834.9" y1="581.2" x2="896.9" y2="581.2" stroke="#161412" stroke-width="2.07" />
<line x1="834.9" y1="593.3" x2="896.9" y2="593.3" stroke="#161412" stroke-width="2.07" />
<line x1="834.9" y1="658.3" x2="896.9" y2="658.3" stroke="#161412" stroke-width="2.07" />
<line x1="834.9" y1="671.3" x2="896.9" y2="671.3" stroke="#161412" stroke-width="2.07" />
<line x1="834.9" y1="581.2" x2="834.9" y2="593.3" stroke="#161412" stroke-width="1.84" />
<line x1="834.9" y1="658.3" x2="834.9" y2="671.3" stroke="#161412" stroke-width="1.84" />
<line x1="864.4" y1="593.3" x2="864.4" y2="658.3" stroke="#161412" stroke-width="2.07" />
<path d="M895,566 Q903,575 904,581 M888,564 Q896,573 897,581" stroke="#161412" stroke-width="1.49" fill="none" />
<path d="M895,686 Q903,677 904,671 M888,688 Q896,679 897,671" stroke="#161412" stroke-width="1.49" fill="none" />
<rect x="863" y="571" width="3" height="6" rx="0" stroke="#161412" stroke-width="1.15" fill="#161412" />
<rect x="863" y="675" width="3" height="6" rx="0" stroke="#161412" stroke-width="1.15" fill="#161412" />
<circle cx="831" cy="625.9" r="15.4" stroke="#161412" stroke-width="1.4" fill="none" stroke-dasharray="3 1.5"/>
<rect x="819.3" y="617.6" width="6.9" height="19" rx="3" stroke="#161412" stroke-width="2.30" fill="none" />
<rect x="831.4" y="617.6" width="7.8" height="19" rx="3" stroke="#161412" stroke-width="2.30" fill="none" />
<line x1="822.7" y1="620" x2="822.7" y2="634" stroke="#161412" stroke-width="1.15" />
<line x1="835.3" y1="620" x2="835.3" y2="634" stroke="#161412" stroke-width="1.15" />
<path d="M843.6,619 L861,625.6 M843.6,633 L861,626.8" stroke="#161412" stroke-width="1.49" fill="none" />
<path d="M878,602 L890,602 M878,652.2 L890,652.2 M878,602 Q874.8,603 874.8,610 L874.8,644 Q874.8,651 878,652.2" stroke="#161412" stroke-width="2.07" fill="none" />
<circle cx="877" cy="605" r="1.8" fill="#161412"/>
<circle cx="877" cy="626.2" r="1.8" fill="#161412"/>
<circle cx="877" cy="647" r="1.8" fill="#161412"/>
<path d="M890,604 Q895,626 890,648" stroke="#161412" stroke-width="1.72" fill="none" />
<path d="M899.5,607.6 Q912,626 899.5,643 Q905,626 899.5,607.6 Z" stroke="#161412" stroke-width="1.4" fill="#555"/>
<line x1="843.7" y1="648" x2="846" y2="656" stroke="#161412" stroke-width="1.49" />
<rect x="896.9" y="584.7" width="25.1" height="77.9" rx="0" stroke="#161412" stroke-width="2.07" fill="none" />
<line x1="902.9" y1="585" x2="902.9" y2="662" stroke="#161412" stroke-width="1.72" />
<line x1="915.9" y1="585" x2="915.9" y2="662" stroke="#161412" stroke-width="1.72" />
<line x1="919.4" y1="585" x2="919.4" y2="662" stroke="#161412" stroke-width="1.38" />
<rect x="922" y="595" width="27.7" height="60.7" rx="0" stroke="#161412" stroke-width="2.76" fill="none" />
<path d="M922,598.5 Q930,626 922,652" stroke="#161412" stroke-width="1.61" fill="none" />
<rect x="922.8" y="618.4" width="15.6" height="16.6" rx="0" stroke="#161412" stroke-width="1.84" fill="none" />
<path d="M928,620 L928,633 M933,620 L933,633 M924,626 L938,626" stroke="#161412" stroke-width="1.15" fill="none" />
<path d="M949.7,603 L955,605 L962,601 L964,610 L967,609.8 L985,609.8 L990,612 L990,615 L1003.4,615 L1003.4,622 L990,622 L990,630 L1003.4,630 L1003.4,636.6 L990,637 L985,642.6 L967,642.6 L964,642 L962,651 L955,647 L949.7,650" stroke="#161412" stroke-width="2.30" fill="none" />
<path d="M955,612 L965,626.2 L955,640 M962,604 L962,650" stroke="#161412" stroke-width="1.84" fill="none" />
<line x1="972" y1="609.8" x2="972" y2="642.6" stroke="#161412" stroke-width="1.61" />
<line x1="985" y1="609.8" x2="985" y2="642.6" stroke="#161412" stroke-width="1.61" />
<rect x="949.7" y="605" width="5" height="42" rx="0" stroke="#161412" stroke-width="1.15" fill="#161412" />
<text x="1059.85" y="566" font-size="20.83" textLength="12.3" lengthAdjust="spacingAndGlyphs" fill="#3b3330" font-weight="bold">VI</text>
<line x1="1050" y1="568" x2="1082" y2="568" stroke="#161412" stroke-width="2.53" />
<text x="1056.5" y="583.5" font-size="17.36" textLength="19.0" lengthAdjust="spacingAndGlyphs" fill="#3b3330" font-weight="bold">2:1</text>
<circle cx="1064.8" cy="625" r="32.2" stroke="#161412" stroke-width="1.5" fill="none" stroke-dasharray="4 1.2"/>
<rect x="1045" y="603.6" width="14.3" height="40.2" rx="3.5" stroke="#161412" stroke-width="2.53" fill="none" />
<rect x="1069.4" y="603.6" width="15.1" height="40.2" rx="3.5" stroke="#161412" stroke-width="2.53" fill="none" />
<rect x="1048.2" y="607" width="7.9" height="33.4" rx="1.5" stroke="#161412" stroke-width="1.38" fill="none" />
<rect x="1072.6" y="607" width="8.7" height="33.4" rx="1.5" stroke="#161412" stroke-width="1.38" fill="none" />
<line x1="1052.1" y1="607" x2="1052.1" y2="640.4" stroke="#161412" stroke-width="1.03" />
<line x1="1077" y1="607" x2="1077" y2="640.4" stroke="#161412" stroke-width="1.03" />
<path d="M1059.3,613.7 Q1066,604 1075.3,601.1 M1059.3,638 Q1066,644 1075.3,645.5" stroke="#161412" stroke-width="1.61" fill="none" />
<path d="M1032.6,617 L1045,619 M1035,632 L1045,630" stroke="#161412" stroke-width="1.49" fill="none" />
<line x1="1035" y1="625" x2="1095" y2="625" stroke="#161412" stroke-width="1.49" />
<line x1="1084.5" y1="611.2" x2="1120" y2="611.2" stroke="#161412" stroke-width="1.61" />
<line x1="1084.5" y1="638.8" x2="1120" y2="638.8" stroke="#161412" stroke-width="1.61" />
<line x1="1113.8" y1="611.2" x2="1113.8" y2="638.8" stroke="#161412" stroke-width="1.72" />
<text x="1101.7" y="629.0" font-size="8.33" textLength="10.0" lengthAdjust="spacingAndGlyphs" fill="#5a504b" font-weight="normal" transform="rotate(-90 1106.7 626)">40</text>
<line x1="1052.6" y1="643.8" x2="1052.6" y2="680.7" stroke="#161412" stroke-width="1.72" />
<line x1="1078.6" y1="643.8" x2="1078.6" y2="680.7" stroke="#161412" stroke-width="1.72" />
<line x1="1052.6" y1="674" x2="1078.6" y2="674" stroke="#161412" stroke-width="1.61" />
<text x="1059.3" y="672.3" font-size="10.42" textLength="9.2" lengthAdjust="spacingAndGlyphs" fill="#5a504b" font-weight="normal">35</text>
<path d="M1075.3,635.5 L1092,659.5 L1131.4,660.6" stroke="#161412" stroke-width="1.49" fill="none" />
<text x="1094.5" y="658" font-size="11.53" textLength="34.4" lengthAdjust="spacingAndGlyphs" fill="#3b3330" font-weight="bold">4-M5▼10</text>
</svg>
<div class="cap" style="top:743.5px;left:-3px;font-size:33.8px;letter-spacing:-1.0px;font-weight:bold;line-height:40px">CRP-RA12-10</div>
<div class="cap" style="top:785px;left:-3.5px;font-size:25.3px;letter-spacing:0.76px;line-height:32px;color:#646d6c">Dimensions of load mounting holes and interfaces</div>
</body></html>
